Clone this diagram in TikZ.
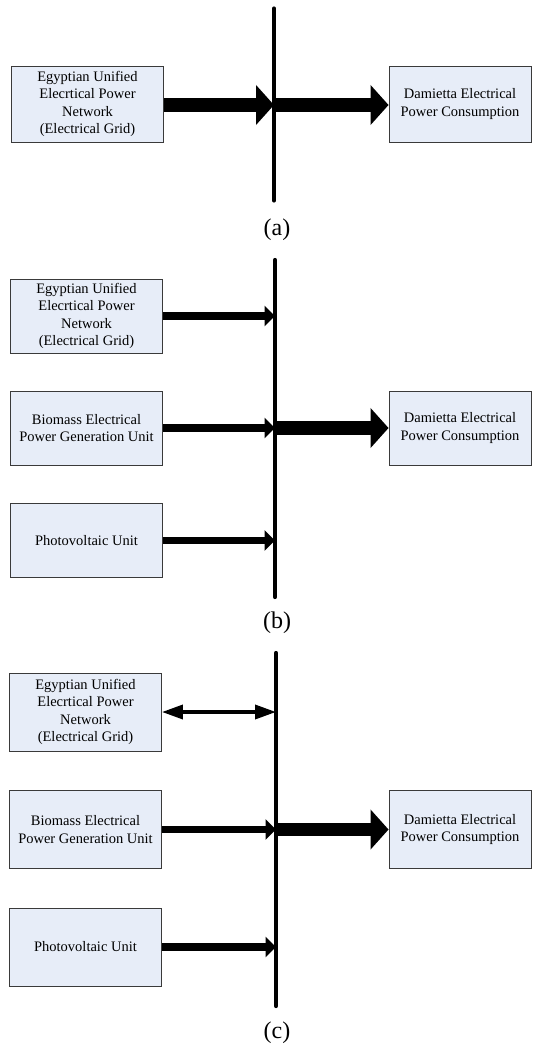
\documentclass[tikz,border=0pt]{standalone}
\usepackage{fontspec}
\setmainfont{Liberation Serif}
\usetikzlibrary{arrows.meta}
\definecolor{boxfill}{HTML}{E7EDF8}
\definecolor{boxline}{HTML}{3A3A3A}
\tikzset{
  blk/.style={draw=boxline, line width=0.9pt, fill=boxfill, align=center, inner sep=2pt,
    font=\fontsize{14.5pt}{17.3pt}\selectfont},
  lbox/.style={blk, minimum width=152pt},
  rbox/.style={blk, minimum width=142pt},
  bus/.style={line width=4.2pt, line cap=round},
  bigarrow/.style={line width=13.6pt, -{Triangle[length=18pt,width=39pt]}},
  thinarrow/.style={line width=7.5pt, -{Triangle[length=10.5pt,width=20pt]}},
  dblarrow/.style={line width=3.5pt, {Triangle[length=21pt,width=14pt]}-{Triangle[length=21pt,width=14pt]}},
  panellabel/.style={font=\fontsize{24pt}{28pt}\selectfont}
}
\begin{document}
\begin{tikzpicture}[x=1pt,y=-1pt]
\useasboundingbox (0,0) rectangle (533,1046);
% ---------- (a)
\node[lbox, minimum height=76pt] (a1) at (87.5,104) {Egyptian Unified\\Elecrtical Power\\Network\\(Electrical Grid)};
\node[rbox, minimum height=76pt] (ar) at (460,104) {Damietta Electrical\\Power Consumption};
\coordinate (atop) at (274,8.5);
\coordinate (abot) at (274,200.5);
\draw[bus] (atop) -- (abot);
\coordinate (aj) at (274,105);
\draw[bigarrow] (a1.east |- aj) -- (aj);
\draw[bigarrow] (aj) -- (ar.west |- aj);
\node[panellabel] (la) at (277,230) {(a)};
% ---------- (b)
\node[lbox, minimum height=74pt] (b1) at (86.5,316) {Egyptian Unified\\Elecrtical Power\\Network\\(Electrical Grid)};
\node[lbox, minimum height=74pt] (b2) at (86.5,428) {Biomass Electrical\\Power Generation Unit};
\node[lbox, minimum height=74pt] (b3) at (86.5,540.5) {Photovoltaic Unit};
\node[rbox, minimum height=74pt] (br) at (460,428) {Damietta Electrical\\Power Consumption};
\coordinate (btop) at (275,260);
\coordinate (bbot) at (275,597);
\draw[bus] (btop) -- (bbot);
\coordinate (bj1) at (275,316);
\coordinate (bj2) at (275,428);
\coordinate (bj3) at (275,540.5);
\draw[thinarrow] (b1.east) -- (bj1);
\draw[thinarrow] (b2.east) -- (bj2);
\draw[thinarrow] (b3.east) -- (bj3);
\draw[bigarrow] (bj2) -- (br.west);
\node[panellabel] (lb) at (277,623) {(b)};
% ---------- (c)
\node[lbox, minimum height=78pt] (c1) at (85.5,712) {Egyptian Unified\\Elecrtical Power\\Network\\(Electrical Grid)};
\node[lbox, minimum height=78pt] (c2) at (85.5,829.5) {Biomass Electrical\\Power Generation Unit};
\node[lbox, minimum height=78pt] (c3) at (85.5,947) {Photovoltaic Unit};
\node[rbox, minimum height=78pt] (cr) at (460,829.5) {Damietta Electrical\\Power Consumption};
\coordinate (ctop) at (276,653);
\coordinate (cbot) at (276,1006);
\draw[bus] (ctop) -- (cbot);
\coordinate (cj1) at (276,712);
\coordinate (cj2) at (276,829.5);
\coordinate (cj3) at (276,947);
\draw[dblarrow] (c1.east) -- (cj1);
\draw[thinarrow] (c2.east) -- (cj2);
\draw[thinarrow] (c3.east) -- (cj3);
\draw[bigarrow] (cj2) -- (cr.west);
\node[panellabel] (lc) at (277,1033) {(c)};
\end{tikzpicture}
\end{document}
